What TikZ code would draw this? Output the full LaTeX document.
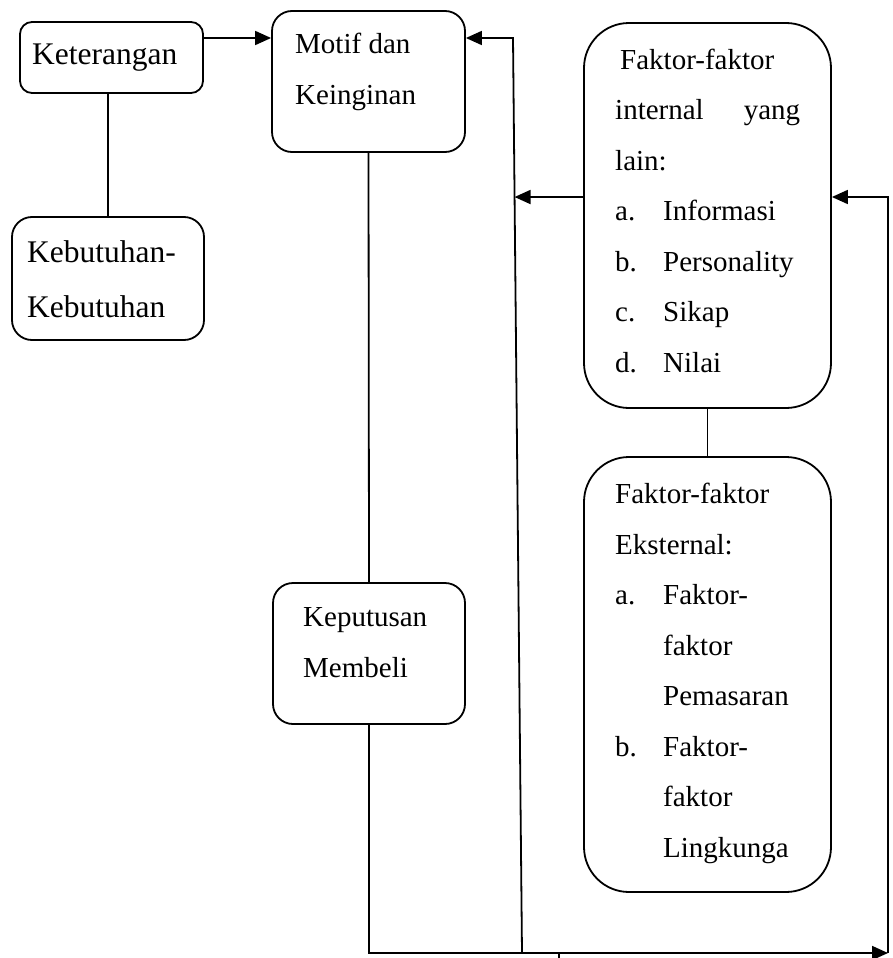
\documentclass[tikz,border=0pt]{standalone}
\usepackage{fontspec}
\setmainfont{Liberation Serif}
\usetikzlibrary{arrows.meta,calc}

\tikzset{
  box/.style={draw, line width=1.8pt, rounded corners=#1},
  box/.default=20pt,
  ln/.style={line width=1.8pt},
  arr/.style={line width=1.8pt, -{Triangle[length=16pt,width=14pt]}},
  txt/.style={anchor=base west, inner sep=0pt, align=left},
  big/.style={font=\fontsize{31.5}{55}\selectfont},
  small/.style={font=\fontsize{29}{50.5}\selectfont}
}

\begin{document}
\begin{tikzpicture}[x=1pt,y=-1pt]
\useasboundingbox (0,0) rectangle (892,958);

% Boxes
\node[box=12pt, minimum width=183pt, minimum height=71pt] (ket) at (111.5,57.5) {};
\node[box, minimum width=192pt, minimum height=123pt] (keb) at (108,278.5) {};
\node[box, minimum width=193pt, minimum height=141pt] (motif) at (368.5,81.5) {};
\node[box, minimum width=192pt, minimum height=141pt] (kep) at (369,653.5) {};
\node[box=45pt, minimum width=247pt, minimum height=385pt] (int) at (707.5,215.5) {};
\node[box=45pt, minimum width=247pt, minimum height=435pt] (ext) at (707.5,674.5) {};

% Texts (placed at the baseline of their last line)
\node[txt, big] (kettxt) at (32,65) {Keterangan};
\node[txt, big] (kebtxt) at (27,317) {Kebutuhan-\\Kebutuhan};
\node[txt, small] (motiftxt) at (295,104) {Motif dan\\Keinginan};
\node[txt, small] (keptxt) at (303,677) {Keputusan\\Membeli};
\node[txt, small] (inttxt) at (615,372) {\hspace*{5pt}Faktor-faktor\\
  \makebox[185pt][s]{internal\hfill yang}\\
  lain:\\
  \makebox[48pt][l]{a.}Informasi\\
  \makebox[48pt][l]{b.}Personality\\
  \makebox[48pt][l]{c.}Sikap\\
  \makebox[48pt][l]{d.}Nilai};
\node[txt, small] (exttxt) at (615,857) {Faktor-faktor\\
  Eksternal:\\
  \makebox[48pt][l]{a.}Faktor-\\
  \makebox[48pt][l]{}faktor\\
  \makebox[48pt][l]{}Pemasaran\\
  \makebox[48pt][l]{b.}Faktor-\\
  \makebox[48pt][l]{}faktor\\
  \makebox[48pt][l]{}Lingkunga};

% Corner points of the lines
\coordinate (mt) at (513,38);
\coordinate (mb) at (522,953);
\coordinate (br) at (888,953);
\coordinate (st) at (559,953);

% Connectors
\draw[ln] (keb.north |- ket.south) -- (keb.north);
\draw[arr] ([yshift=19.5pt]ket.east) -- ([yshift=19.5pt]ket.east -| motif.west);
\draw[ln] (motif.south) -- (kep.north);
\draw[ln] (int.south) -- (ext.north);
\draw[arr] (mb) -- (mt) -- (motif.east |- mt);
\draw[arr] ([yshift=18.5pt]int.west) -- ($(mt)!0.1738!(mb)$);
\draw[arr] (kep.south) |- (br);
\draw[arr] (br) |- ([yshift=18.5pt]int.east);
\draw[ln] (st) -- ++(0,5);

\end{tikzpicture}
\end{document}
